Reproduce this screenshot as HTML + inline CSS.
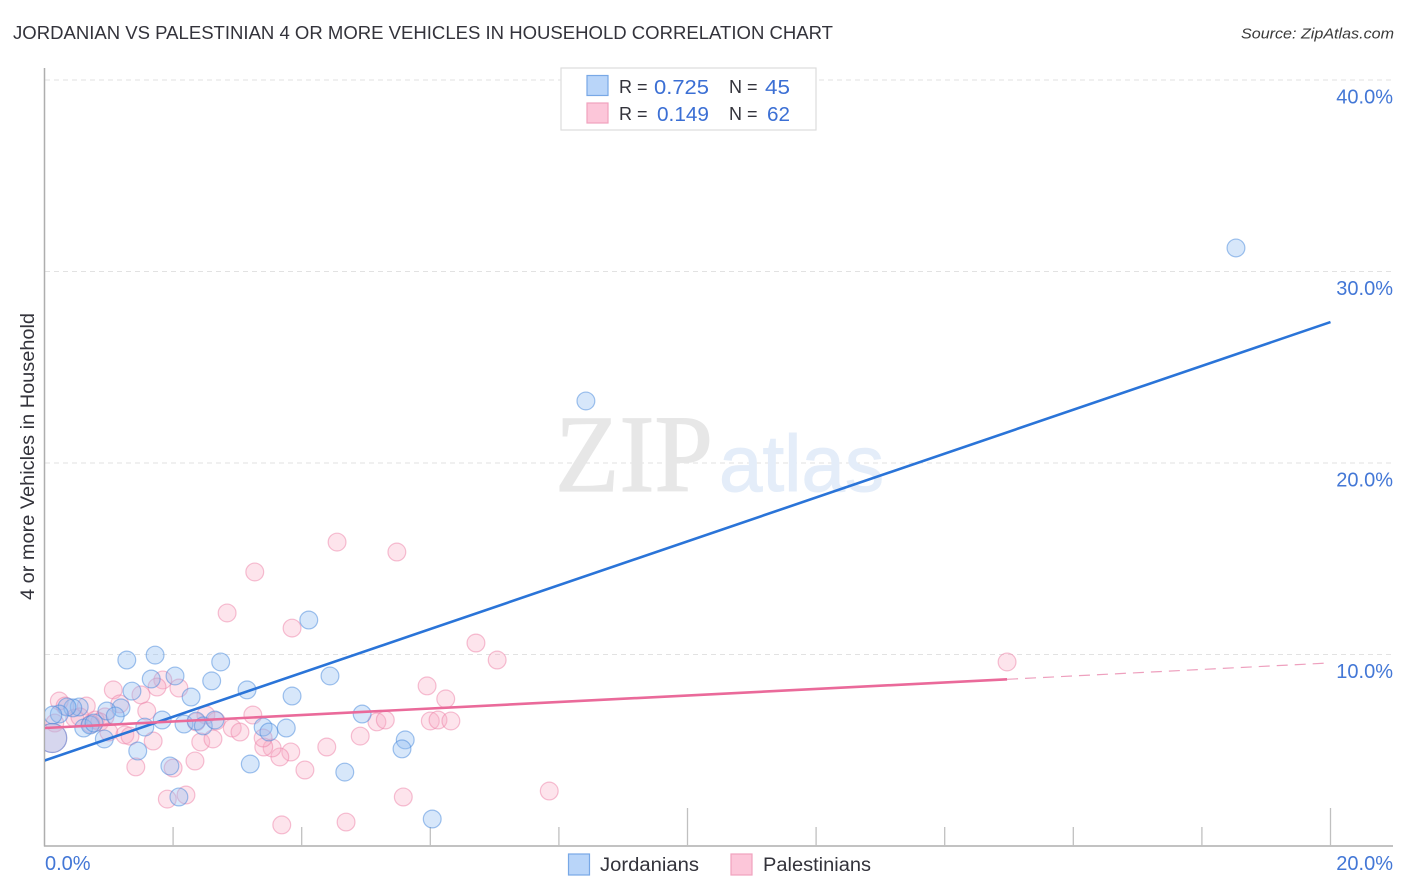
<!DOCTYPE html>
<html lang="en">
<head>
<meta charset="utf-8">
<title>Jordanian vs Palestinian 4 or More Vehicles in Household Correlation Chart</title>
<style>
  html, body { margin: 0; padding: 0; background: #fff; }
  body { width: 1406px; height: 892px; overflow: hidden; }
  svg { display: block; font-family: "Liberation Sans", sans-serif; }
</style>
</head>
<body>
<svg id="chart" width="1406" height="892" viewBox="0 0 1406 892" xmlns="http://www.w3.org/2000/svg">
  <defs>
    <clipPath id="plot-clip"><rect x="45" y="60" width="1348" height="786"/></clipPath>
  </defs>
  <rect x="0" y="0" width="1406" height="892" fill="#ffffff"/>

  <text x="13" y="39" font-size="18.5" fill="#33333b" textLength="820" lengthAdjust="spacingAndGlyphs">JORDANIAN VS PALESTINIAN 4 OR MORE VEHICLES IN HOUSEHOLD CORRELATION CHART</text>
  <text x="1394" y="38.5" font-size="15" font-style="italic" fill="#3a3a3a" text-anchor="end" textLength="153" lengthAdjust="spacingAndGlyphs">Source: ZipAtlas.com</text>

  <g id="grid"></g>

  <g>
    <text x="555" y="491" font-family="'Liberation Serif', serif" font-size="110" fill="#e7e7e7" stroke="#e7e7e7" stroke-width="1.2" textLength="158" lengthAdjust="spacingAndGlyphs">ZIP</text>
    <text x="719" y="491" font-size="80" fill="#e4edf9" stroke="#e4edf9" stroke-width="1" textLength="165" lengthAdjust="spacingAndGlyphs">atlas</text>
  </g>

  <g id="axes">
    <line x1="44.5" y1="68" x2="44.5" y2="846.5" stroke="#aeaeae" stroke-width="1.5"/>
    <line x1="44" y1="846" x2="1393" y2="846" stroke="#aeaeae" stroke-width="1.5"/>
  </g>

  <text transform="translate(34 456.5) rotate(-90)" font-size="19" fill="#33333b" text-anchor="middle" textLength="287" lengthAdjust="spacingAndGlyphs">4 or more Vehicles in Household</text>

  <g id="points" clip-path="url(#plot-clip)"></g>
  <g id="trends" clip-path="url(#plot-clip)"></g>
  <g id="labels"></g>

  <g>
    <rect x="561" y="68" width="255" height="62" fill="#ffffff" stroke="#dddddd" stroke-width="1.2"/>
    <rect x="587" y="75.5" width="21" height="20" fill="#b9d5f9" stroke="#78a8e6" stroke-width="1.2"/>
    <rect x="587" y="103" width="21" height="20" fill="#fcc6d9" stroke="#f1a2bd" stroke-width="1.2"/>
    <text x="619" y="93" font-size="18" fill="#33333b">R =</text>
    <text x="654" y="94" font-size="20.5" fill="#3b6fd4" textLength="55" lengthAdjust="spacingAndGlyphs">0.725</text>
    <text x="729" y="93" font-size="18" fill="#33333b">N =</text>
    <text x="765" y="94" font-size="20.5" fill="#3b6fd4" textLength="25" lengthAdjust="spacingAndGlyphs">45</text>
    <text x="619" y="120" font-size="18" fill="#33333b">R =</text>
    <text x="657" y="121" font-size="20.5" fill="#3b6fd4" textLength="52" lengthAdjust="spacingAndGlyphs">0.149</text>
    <text x="729" y="120" font-size="18" fill="#33333b">N =</text>
    <text x="767" y="121" font-size="20.5" fill="#3b6fd4" textLength="23" lengthAdjust="spacingAndGlyphs">62</text>
  </g>

  <g>
    <rect x="568.5" y="854" width="21" height="21" fill="#b9d5f9" stroke="#78a8e6" stroke-width="1.2"/>
    <text x="600" y="871" font-size="19" fill="#33333b" textLength="99" lengthAdjust="spacingAndGlyphs">Jordanians</text>
    <rect x="731" y="854" width="21" height="21" fill="#fcc6d9" stroke="#f1a2bd" stroke-width="1.2"/>
    <text x="763" y="871" font-size="19" fill="#33333b" textLength="108" lengthAdjust="spacingAndGlyphs">Palestinians</text>
  </g>
</svg>

<script>
// Chart data (percent values)
const yTickValues = [10, 20, 30, 40];
const yTickLabels = ["10.0%", "20.0%", "30.0%", "40.0%"];
const xTickValues = [2, 4, 6, 8, 10, 12, 14, 16, 18, 20];
const xMajorTicks = [10, 20];
const xEndValues = [0, 20];
const xEndLabels = ["0.0%", "20.0%"];

const jordanianX = [18.53, 8.42, 4.11, 1.72, 1.28, 2.74, 2.03, 1.66, 4.44, 2.60, 1.36, 3.15, 2.28, 3.85, 1.19, 0.97, 1.10, 4.94, 1.83, 0.54, 0.44, 0.35, 0.23, 0.13, 1.56, 0.61, 0.71, 0.77, 2.17, 2.36, 2.47, 2.65, 3.40, 3.49, 3.76, 0.93, 1.45, 5.61, 5.56, 1.95, 3.20, 4.67, 2.09, 6.03, 0.12];
const jordanianY = [31.23, 23.24, 11.80, 9.97, 9.71, 9.61, 8.88, 8.72, 8.88, 8.62, 8.09, 8.15, 7.78, 7.83, 7.21, 7.05, 6.79, 6.89, 6.58, 7.26, 7.21, 7.26, 6.89, 6.84, 6.21, 6.16, 6.32, 6.42, 6.37, 6.53, 6.27, 6.58, 6.21, 5.95, 6.16, 5.59, 4.96, 5.54, 5.07, 4.18, 4.28, 3.86, 2.56, 1.41, 5.64];

const palestinianX = [2.84, 0.23, 1.07, 1.84, 1.75, 2.09, 1.50, 1.17, 1.59, 0.65, 0.32, 0.94, 0.79, 0.47, 0.55, 0.86, 0.16, 2.51, 2.92, 3.04, 3.24, 1.00, 1.25, 1.33, 1.69, 2.43, 2.62, 2.34, 1.42, 2.00, 1.91, 2.20, 3.85, 6.71, 7.04, 5.95, 6.24, 6.00, 6.12, 6.32, 5.17, 5.30, 4.91, 4.39, 3.83, 3.66, 3.54, 3.41, 3.40, 4.05, 5.58, 3.69, 4.69, 4.55, 5.48, 3.27, 14.97, 7.85, 2.67, 2.36, 0.72, 0.12];
const palestinianY = [12.17, 7.57, 8.15, 8.67, 8.30, 8.25, 7.89, 7.42, 7.05, 7.31, 7.31, 6.74, 6.58, 6.68, 6.74, 6.48, 6.42, 6.84, 6.16, 5.95, 6.84, 5.95, 5.80, 5.74, 5.48, 5.43, 5.59, 4.44, 4.13, 4.07, 2.45, 2.66, 11.38, 10.60, 9.71, 8.36, 7.68, 6.53, 6.58, 6.53, 6.48, 6.58, 5.74, 5.17, 4.91, 4.65, 5.12, 5.17, 5.64, 3.97, 2.56, 1.10, 1.25, 15.87, 15.35, 14.31, 9.61, 2.87, 6.53, 6.48, 6.37, 5.64];

const jordanianTrendEnds = [4.46, 27.36];
const palestinianTrendEnds = [6.16, 9.56];
const palestinianSolidEnd = 14.97;

// Axis functions
const xScale = v => 44.5 + v * 64.3;
const yScale = v => 846 - v * 19.15;
const trendAt = (ends, x) => ends[0] + (ends[1] - ends[0]) * x / 20;

const NS = 'http://www.w3.org/2000/svg';
function make(tag, parentId, attrs) {
  const el = document.createElementNS(NS, tag);
  for (const k in attrs) el.setAttribute(k, attrs[k]);
  document.getElementById(parentId).appendChild(el);
  return el;
}

// Gridlines and y labels
yTickValues.concat([]).forEach((v, i) => {
  const g = make('line', 'grid', { x1: 45, x2: 1393, y1: yScale(v), y2: yScale(v), stroke: '#e2e2e2', 'stroke-width': 1, 'stroke-dasharray': '5 4' });
  
  
  const t = make('text', 'labels', { x: 1393, y: yScale(v) + 23.5, 'font-size': 20, fill: '#4377d6', 'text-anchor': 'end' });
  
  
  t.textContent = yTickLabels[i];
});

// X ticks
xTickValues.forEach(v => {
  const tall = xMajorTicks.includes(v);
  const l = make('line', 'axes', { x1: xScale(v), x2: xScale(v), y1: 846, y2: tall ? 808 : 827, stroke: '#c0c0c0', 'stroke-width': 1.3 });
  
  
});

// X end labels
xEndValues.forEach((v, i) => {
  const t = make('text', 'labels', { x: v === 0 ? 45 : 1393, y: 870, 'font-size': 20, fill: '#4377d6', 'text-anchor': v === 0 ? 'start' : 'end' });
  
  
  t.textContent = xEndLabels[i];
});

// Scatter marks: the final point of each series is the large aggregate bubble
function drawSeries(xs, ys, fill, stroke, name) {
  xs.forEach((x, i) => {
    const big = i === xs.length - 1;
    const c = make('circle', 'points', { cx: xScale(x), cy: yScale(ys[i]), r: big ? 14.5 : 8.9, fill: fill, stroke: stroke, 'stroke-width': 1.2 });
    
    
  });
}
drawSeries(palestinianX, palestinianY, 'rgba(250,170,195,0.32)', 'rgba(238,130,168,0.5)', 'palestinian-point');
drawSeries(jordanianX, jordanianY, 'rgba(145,188,240,0.36)', 'rgba(70,135,220,0.5)', 'jordanian-point');

// Trend lines
const blueTrend = make('line', 'trends', { x1: xScale(0), y1: yScale(jordanianTrendEnds[0]), x2: xScale(20), y2: yScale(jordanianTrendEnds[1]), stroke: '#2a74d8', 'stroke-width': 2.6 });



const pinkSolid = make('line', 'trends', { x1: xScale(0), y1: yScale(palestinianTrendEnds[0]), x2: xScale(palestinianSolidEnd), y2: yScale(trendAt(palestinianTrendEnds, palestinianSolidEnd)), stroke: '#ea6a9a', 'stroke-width': 2.6 });



const pinkDash = make('line', 'trends', { x1: xScale(palestinianSolidEnd), y1: yScale(trendAt(palestinianTrendEnds, palestinianSolidEnd)), x2: xScale(20), y2: yScale(palestinianTrendEnds[1]), stroke: '#eea0be', 'stroke-width': 1.2, 'stroke-dasharray': '11 7' });


</script>
</body>
</html>
